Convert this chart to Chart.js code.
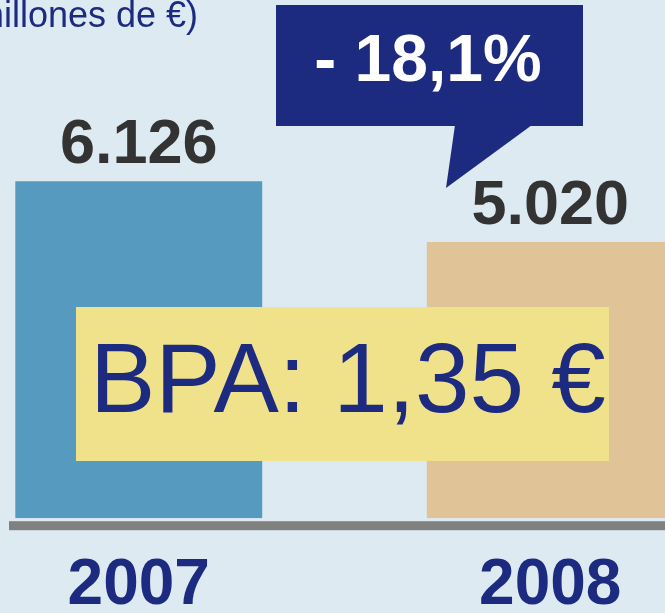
<!DOCTYPE html>
<html>
<head>
<meta charset="utf-8">
<script src="https://cdn.jsdelivr.net/npm/chart.js@4"></script>
<style>
    html, body { margin: 0; padding: 0; background: #ddeaf2; overflow: hidden; }
    #wrap { position: relative; width: 665px; height: 613px; overflow: hidden; background: #ddeaf2; }
    #chart { position: absolute; left: -67px; top: 0; }
</style>
</head>
<body>
<div id="wrap">
    <canvas id="chart" width="823" height="660"></canvas>
</div>
<script>
// Chart data
const years = ['2007', '2008'];
const profit = [6126, 5020];
const profitLabels = ['6.126', '5.020'];
const barColors = ['#569bbf', '#e0c396'];
const unitText = '(millones de €)';
const changeText = '- 18,1%';
const epsText = 'BPA: 1,35 €';

const NAVY = '#1c2b80';
const FONT = '"Liberation Sans", Arial, sans-serif';
const OFFSET = 67; // canvas sits 67px left of the page edge

// Labels, callout, EPS box and axis line
const extras = {
    id: 'extras',
    afterDatasetsDraw(chart) {
        const ctx = chart.ctx;
        const bars = chart.getDatasetMeta(0).data;
        ctx.save();

        // axis line
        ctx.fillStyle = '#808080';
        ctx.fillRect(9 + OFFSET, chart.chartArea.bottom + 3, chart.width, 9);

        // unit text (cut off on the left)
        ctx.fillStyle = NAVY;
        ctx.font = '36px ' + FONT;
        ctx.textAlign = 'right';
        ctx.textBaseline = 'alphabetic';
        ctx.fillText(unitText, 198 + OFFSET, 27);

        // value labels above bars
        ctx.fillStyle = '#333333';
        ctx.font = 'bold 63px ' + FONT;
        ctx.textAlign = 'center';
        bars.forEach((bar, i) => {
            ctx.fillText(profitLabels[i], bar.x, bar.y - 18);
        });

        // callout with change
        ctx.fillStyle = NAVY;
        ctx.fillRect(276 + OFFSET, 5, 307, 121);
        ctx.beginPath();
        ctx.moveTo(455 + OFFSET, 125);
        ctx.lineTo(532 + OFFSET, 125);
        ctx.lineTo(446 + OFFSET, 188);
        ctx.closePath();
        ctx.fill();
        ctx.fillStyle = '#ffffff';
        ctx.font = 'bold 66px ' + FONT;
        ctx.textAlign = 'center';
        ctx.fillText(changeText, 428 + OFFSET, 81);

        // EPS box
        ctx.fillStyle = '#f0e18b';
        ctx.fillRect(76 + OFFSET, 307, 533, 154);
        ctx.fillStyle = NAVY;
        ctx.font = '98px ' + FONT;
        ctx.textAlign = 'left';
        ctx.fillText(epsText, 90 + OFFSET, 412);

        ctx.restore();
    }
};

new Chart(document.getElementById('chart'), {
    type: 'bar',
    data: {
        labels: years,
        datasets: [{
            data: profit,
            backgroundColor: barColors,
            borderWidth: 0,
            barPercentage: 0.6,
            categoryPercentage: 1
        }]
    },
    options: {
        responsive: false,
        animation: false,
        layout: { padding: { top: 23, bottom: 5, left: 0, right: 0 } },
        plugins: {
            legend: { display: false },
            tooltip: { enabled: false }
        },
        scales: {
            x: {
                grid: { display: false, drawTicks: false },
                border: { display: false },
                ticks: {
                    color: NAVY,
                    padding: 30,
                    font: { family: FONT, size: 64, weight: 'bold' }
                }
            },
            y: {
                display: false,
                min: 0,
                max: 9000
            }
        }
    },
    plugins: [extras]
});
</script>
</body>
</html>
